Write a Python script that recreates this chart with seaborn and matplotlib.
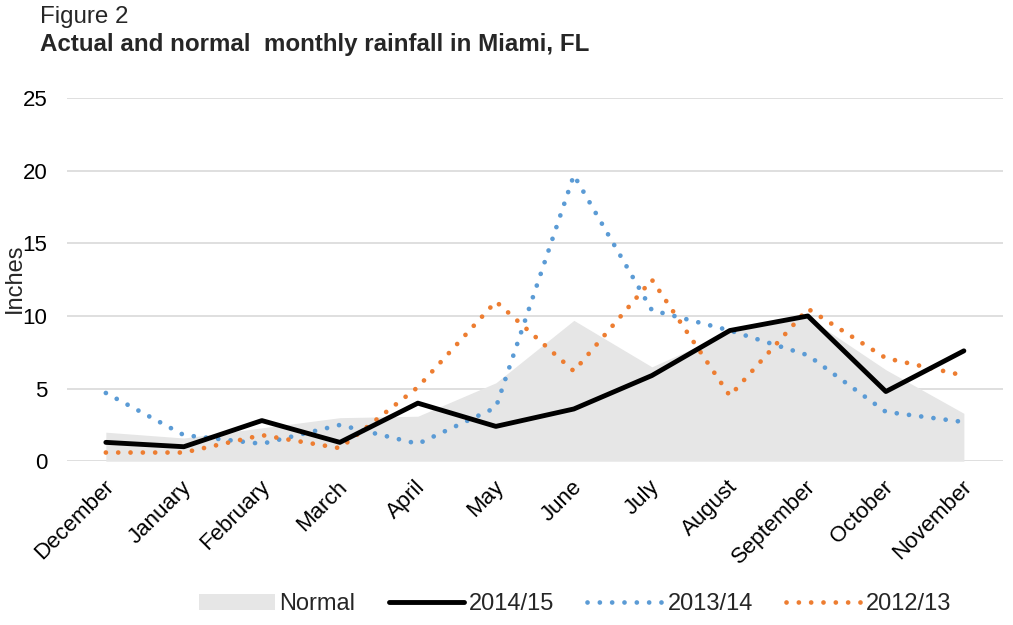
import pandas as pd
import numpy as np
import seaborn as sns
import matplotlib.pyplot as plt
import matplotlib.transforms as mtransforms
from matplotlib.patches import Patch
from matplotlib.lines import Line2D

months = ["December", "January", "February", "March", "April", "May",
          "June", "July", "August", "September", "October", "November"]
normal = [2.0, 1.6, 2.3, 3.0, 3.1, 5.4, 9.7, 6.5, 8.9, 9.9, 6.3, 3.3]
y2014 = [1.3, 1.0, 2.8, 1.3, 4.0, 2.4, 3.6, 5.9, 9.0, 10.0, 4.8, 7.6]
y2013 = [4.7, 1.8, 1.2, 2.5, 1.2, 3.7, 19.7, 10.4, 9.0, 7.3, 3.4, 2.7]
y2012 = [0.6, 0.6, 1.8, 0.9, 5.1, 11.0, 6.2, 12.5, 4.5, 10.5, 7.1, 5.9]

series = ["2014/15", "2013/14", "2012/13"]
colors = {"2014/15": "black", "2013/14": "#5b9bd5", "2012/13": "#ed7d31"}

df = pd.DataFrame({
    "idx": list(range(12)) * 3,
    "Inches": y2014 + y2013 + y2012,
    "Series": sum([[s] * 12 for s in series], []),
})

sns.set_theme(style="white")
plt.rcParams["font.family"] = ["Liberation Sans", "DejaVu Sans"]

fs = 16
dots = (0.01, 2.6)

fig = plt.figure(figsize=(10.13, 6.25), dpi=100)
ax = fig.add_axes([0.066, 0.262, 0.924, 0.581])

# zona normal en gris
ax.fill_between(range(12), normal, 0, color="#e6e6e6", lw=0, zorder=1)

sns.lineplot(data=df, x="idx", y="Inches", hue="Series", palette=colors,
             hue_order=series, ax=ax, legend=False, zorder=3)

for line, s in zip(ax.lines, series):
    if s == "2014/15":
        line.set_linewidth(3.5)
        line.set_zorder(4)
    else:
        line.set_linewidth(3.4)
        line.set_dashes(dots)
        line.set_dash_capstyle("round")
        line.set_zorder(3)

ax.set_xlim(-0.5, 11.5)
ax.set_ylim(0, 25)
ax.set_yticks([0, 5, 10, 15, 20, 25])
ax.set_xticks(range(12))
ax.set_xticklabels(months, rotation=45, ha="right", rotation_mode="anchor")
ax.tick_params(axis="both", labelsize=fs, length=0, colors="#000000")
ax.tick_params(axis="y", pad=14)
ax.tick_params(axis="x", pad=11)
shift = mtransforms.ScaledTranslation(-2 / 72, 0, fig.dpi_scale_trans)
for lab in ax.get_xticklabels():
    lab.set_transform(lab.get_transform() + shift)
ax.grid(axis="y", color="#d9d9d9", lw=1.2, zorder=0)
ax.set_axisbelow(True)
for sp in ax.spines.values():
    sp.set_visible(False)

ax.set_xlabel("")
ax.set_ylabel("Inches", fontsize=17)
ax.yaxis.set_label_coords(-0.044, 0.505)

fig.text(0.039, 0.972, "Figure 2", fontsize=17.4, va="center")
fig.text(0.039, 0.929, "Actual and normal  monthly rainfall in Miami, FL",
         fontsize=17.4, fontweight="bold", va="center")

handles = [
    Patch(facecolor="#e6e6e6", edgecolor="none"),
    Line2D([], [], color="black", lw=3.5),
    Line2D([], [], color=colors["2013/14"], lw=3.4, dashes=dots, dash_capstyle="round"),
    Line2D([], [], color=colors["2012/13"], lw=3.4, dashes=dots, dash_capstyle="round"),
]
fig.legend(handles, ["Normal"] + series, loc="center", bbox_to_anchor=(0.568, 0.033),
           ncol=4, frameon=False, fontsize=17, handlelength=3.2,
           columnspacing=1.4, handletextpad=0.2)

fig.savefig("out.png", dpi=100)
